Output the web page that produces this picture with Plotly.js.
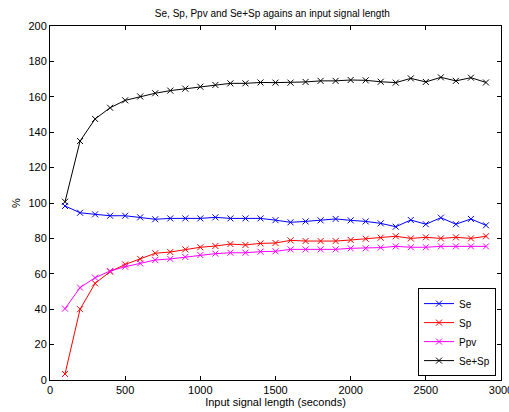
<!DOCTYPE html>
<html><head><meta charset="utf-8">
<script src="https://cdn.plot.ly/plotly-3.0.1.min.js"></script>
<style>html,body{margin:0;padding:0;background:#fff}#c{width:509px;height:412px}</style>
</head><body><div id="c"></div>
<script>
const lengths = [100,200,300,400,500,600,700,800,900,1000,1100,1200,1300,1400,1500,1600,1700,1800,1900,2000,2100,2200,2300,2400,2500,2600,2700,2800,2900];
const se   = [98.3,94.5,93.6,92.8,92.8,91.9,90.8,91.3,91.3,91.3,91.9,91.3,91.3,91.3,90.3,89.1,89.6,90.2,91.0,90.2,89.6,88.5,86.6,90.4,88.0,91.7,88.0,91.0,87.4];
const sp   = [3.4,40.0,54.6,61.2,65.3,68.4,71.6,72.3,73.8,75.0,75.7,76.8,76.3,77.2,77.4,78.9,78.5,78.5,78.5,79.1,79.8,80.4,81.2,80.0,80.6,80.0,80.6,80.0,81.2];
const ppv  = [40.3,52.2,57.8,61.6,64.0,65.9,67.8,68.4,69.5,70.6,71.4,71.9,71.9,72.5,72.7,73.8,73.8,73.8,73.8,74.4,74.4,74.8,75.5,75.0,75.0,75.5,75.5,75.5,75.5];
const sesp = [100.7,135.0,147.5,153.8,158.0,160.2,162.0,163.5,164.6,165.7,166.7,167.6,167.6,168.1,168.0,168.0,168.4,169.0,169.0,169.5,169.3,168.5,168.0,170.4,168.4,171.0,169.0,170.8,168.1];
const names = ["Se","Sp","Ppv","Se+Sp"];
const colors = ["#0000ff","#ff0000","#ff00ff","#000000"];
const series = [se, sp, ppv, sesp];

const traces = series.map((ys,i)=>({
  x: lengths, y: ys, name: names[i], type:'scatter', mode:'lines+markers',
  line:{color:colors[i], width:1},
  marker:{symbol:'x-thin', size:6, line:{color:colors[i], width:1}, color:colors[i]}
}));
const font = {family:'"Liberation Sans", Arial, sans-serif', size:11, color:'#000'};
const layout = {
  width:509, height:412,
  margin:{l:50, r:8, t:26, b:32},
  paper_bgcolor:'#fff', plot_bgcolor:'#fff',
  font: font,
  showlegend:true,
  title:{text:'Se, Sp, Ppv and Se+Sp agains an input signal length', font:{family:font.family,size:10,color:'#000'}, x:0.535, xanchor:'center', y:0.967, yanchor:'middle'},
  xaxis:{range:[0,3000], tickvals:[0,500,1000,1500,2000,2500,3000], ticks:'inside', ticklen:4, tickcolor:'#000', showline:true, linecolor:'#000', linewidth:1, mirror:'ticks', showgrid:false, zeroline:false, ticklabeloverflow:'allow',
    title:{text:'Input signal length (seconds)', font:{family:font.family,size:11,color:'#000'}, standoff:2}, tickfont:{size:11}},
  yaxis:{range:[0,200], dtick:20, ticks:'inside', ticklen:4, tickcolor:'#000', showline:true, linecolor:'#000', linewidth:1, mirror:'ticks', showgrid:false, zeroline:false,
    title:{text:'%', font:{family:font.family,size:11,color:'#000'}, standoff:5}, tickfont:{size:11}},
  legend:{x:0.989, y:0.011, xanchor:'right', yanchor:'bottom', bgcolor:'#fff', bordercolor:'#000', borderwidth:1, font:{family:font.family,size:10,color:'#000'}, tracegroupgap:0, itemwidth:30}
};
Plotly.newPlot('c', traces, layout, {displayModeBar:false, staticPlot:true});
</script></body></html>
